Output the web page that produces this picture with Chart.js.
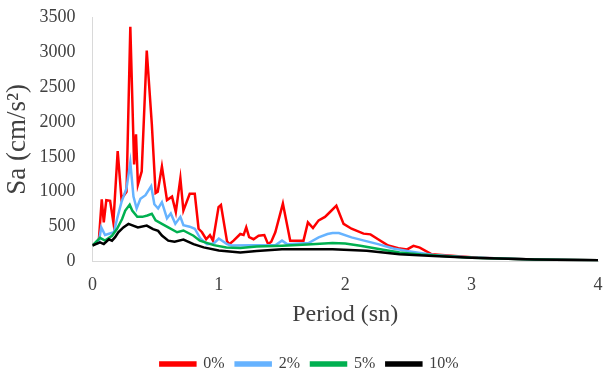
<!DOCTYPE html>
<html>
<head>
<meta charset="utf-8">
<script src="https://cdn.jsdelivr.net/npm/chart.js@4.4.1/dist/chart.umd.min.js"></script>
<style>
  body { margin: 0; background: #fff; }
  #wrap { width: 611px; height: 370px; }
</style>
</head>
<body>
<div id="wrap"><canvas id="spectrumChart"></canvas></div>
<script>
// data block
const legendLabels = ["0%", "2%", "5%", "10%"];
const xTicks = [0, 1, 2, 3, 4];
const yTicks = [0, 500, 1000, 1500, 2000, 2500, 3000, 3500];

const period0 = [0, 0.05, 0.074, 0.09, 0.11, 0.14, 0.166, 0.2, 0.23, 0.27, 0.3, 0.33, 0.345, 0.36, 0.39, 0.43, 0.47, 0.5, 0.517, 0.55, 0.59, 0.63, 0.66, 0.696, 0.72, 0.77, 0.81, 0.84, 0.867, 0.9, 0.93, 0.954, 0.998, 1.017, 1.065, 1.083, 1.117, 1.17, 1.196, 1.217, 1.24, 1.275, 1.315, 1.36, 1.39, 1.415, 1.447, 1.507, 1.565, 1.67, 1.705, 1.745, 1.79, 1.84, 1.88, 1.93, 1.987, 2.05, 2.145, 2.2, 2.26, 2.34, 2.42, 2.49, 2.54, 2.59, 2.685, 2.79, 3.05, 3.5, 4];
const sa0 = [240, 280, 890, 560, 880, 870, 560, 1580, 900, 1000, 3360, 1390, 1820, 1100, 1290, 3020, 1970, 980, 1000, 1360, 880, 930, 710, 1190, 730, 970, 970, 470, 420, 320, 380, 300, 780, 810, 290, 250, 300, 395, 380, 490, 350, 320, 370, 380, 250, 285, 420, 830, 300, 300, 560, 480, 590, 640, 710, 800, 540, 470, 400, 390, 320, 230, 190, 175, 225, 200, 105, 90, 55, 30, 18];

const period2 = [0, 0.05, 0.07, 0.1, 0.17, 0.195, 0.23, 0.27, 0.3, 0.325, 0.35, 0.38, 0.42, 0.465, 0.49, 0.52, 0.55, 0.59, 0.62, 0.656, 0.696, 0.72, 0.77, 0.81, 0.854, 0.907, 0.96, 1.0, 1.065, 1.1, 1.45, 1.5, 1.54, 1.71, 1.79, 1.86, 1.9, 1.95, 2.05, 2.15, 2.26, 2.38, 2.5, 2.7, 3.0, 3.5, 4];
const sa2 = [240, 270, 490, 380, 420, 610, 850, 1050, 1420, 930, 760, 900, 950, 1080, 820, 760, 850, 620, 690, 540, 640, 520, 500, 470, 330, 250, 260, 330, 250, 230, 236, 300, 250, 265, 347, 395, 410, 410, 347, 300, 250, 188, 150, 95, 60, 30, 18];

const period5 = [0, 0.06, 0.1, 0.155, 0.195, 0.235, 0.26, 0.295, 0.315, 0.355, 0.395, 0.435, 0.47, 0.5, 0.55, 0.6, 0.67, 0.72, 0.8, 0.85, 0.96, 1.06, 1.17, 1.3, 1.5, 1.7, 1.9, 2.0, 2.12, 2.3, 2.43, 2.6, 2.8, 3.0, 3.5, 4];
const sa5 = [230, 340, 300, 370, 470, 610, 730, 815, 730, 640, 640, 660, 685, 590, 540, 490, 420, 445, 370, 300, 236, 203, 193, 215, 227, 245, 265, 260, 227, 170, 130, 100, 75, 55, 30, 18];

const period10 = [0, 0.06, 0.09, 0.13, 0.155, 0.18, 0.205, 0.245, 0.285, 0.36, 0.43, 0.48, 0.52, 0.55, 0.6, 0.65, 0.72, 0.8, 0.88, 1.0, 1.17, 1.3, 1.5, 1.9, 2.17, 2.43, 2.7, 3.0, 3.5, 4];
const sa10 = [230, 275, 250, 320, 300, 350, 420, 490, 540, 490, 515, 465, 440, 372, 300, 285, 314, 250, 203, 160, 130, 150, 178, 178, 155, 106, 80, 55, 30, 18];

const toPoints = (xs, ys) => xs.map((x, i) => ({ x: x, y: ys[i] }));

// setup block
const serif = "'Liberation Serif', 'Times New Roman', serif";
const textColor = "#404040";
const axisColor = "#d9d9d9";

const lineStyle = (color, order) => ({
  borderColor: color,
  backgroundColor: color,
  borderWidth: 2.5,
  pointRadius: 0,
  tension: 0,
  fill: false,
  order: order,
});

const data = {
  datasets: [
    { label: legendLabels[0], data: toPoints(period0, sa0), ...lineStyle("#ff0000", 4) },
    { label: legendLabels[1], data: toPoints(period2, sa2), ...lineStyle("#66b3ff", 3) },
    { label: legendLabels[2], data: toPoints(period5, sa5), ...lineStyle("#00b050", 2) },
    { label: legendLabels[3], data: toPoints(period10, sa10), ...lineStyle("#000000", 1) },
  ],
};

// config block
const config = {
  type: "line",
  data,
  options: {
    responsive: true,
    maintainAspectRatio: false,
    animation: false,
    layout: {
      padding: { top: 17, right: 0, left: 8, bottom: -12 },
    },
    plugins: {
      legend: {
        position: "bottom",
        labels: {
          boxWidth: 35,
          boxHeight: 3,
          padding: 11,
          color: textColor,
          font: { family: serif, size: 16 },
          sort: (a, b) => a.datasetIndex - b.datasetIndex,
        },
      },
      tooltip: { enabled: false },
    },
    scales: {
      x: {
        type: "linear",
        min: 0,
        max: 4,
        afterBuildTicks: (axis) => { axis.ticks = xTicks.map((v) => ({ value: v })); },
        afterFit: (axis) => { axis.paddingRight = 13; },
        grid: { display: false, drawTicks: false },
        border: { display: true, color: axisColor, width: 1 },
        ticks: {
          padding: 13,
          color: textColor,
          font: { family: serif, size: 18 },
        },
        title: {
          display: true,
          text: "Period (sn)",
          color: textColor,
          font: { family: serif, size: 24 },
          padding: { top: -9, bottom: 16 },
        },
      },
      y: {
        min: 0,
        max: 3500,
        afterBuildTicks: (axis) => { axis.ticks = yTicks.map((v) => ({ value: v })); },
        afterFit: (axis) => { axis.paddingTop = 0; },
        grid: { display: false, drawTicks: false },
        border: { display: true, color: axisColor, width: 1 },
        ticks: {
          padding: 17,
          color: textColor,
          font: { family: serif, size: 18 },
          callback: (value) => String(value),
        },
        title: {
          display: true,
          text: "Sa (cm/s²)",
          color: textColor,
          font: { family: serif, size: 27 },
          padding: { top: -6, bottom: -12 },
        },
      },
    },
  },
};

// render block
const spectrumChart = new Chart(document.getElementById("spectrumChart"), config);
</script>
</body>
</html>
